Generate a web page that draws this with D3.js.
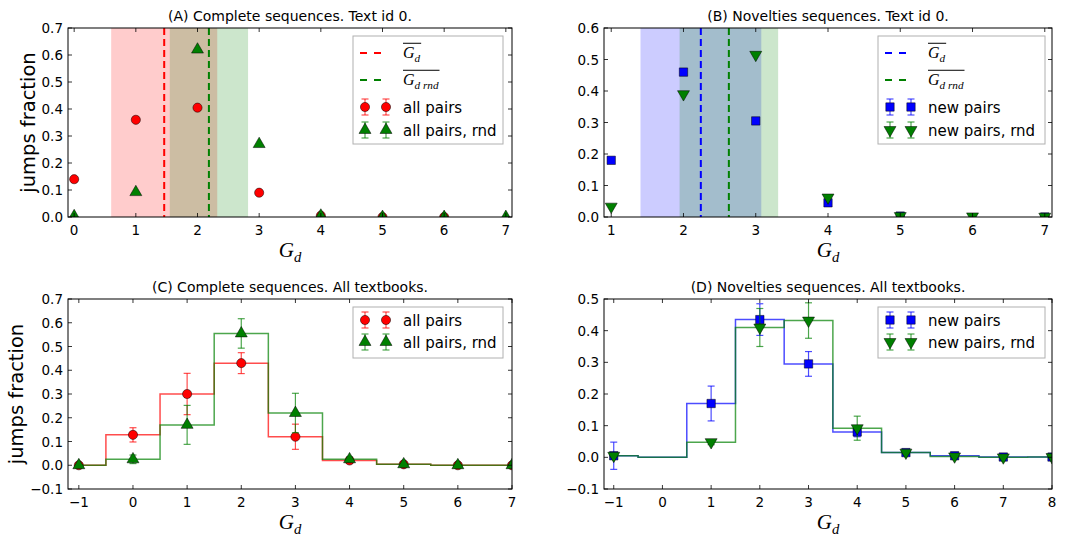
<!DOCTYPE html>
<html>
<head>
<meta charset="utf-8">
<script src="https://cdn.jsdelivr.net/npm/d3@7"></script>
<style>
body { margin: 0; background: #fff; }
svg text { font-family: "DejaVu Sans", sans-serif; fill: #000; }
</style>
</head>
<body>
<svg id="svg" width="1065" height="537"></svg>
<script>
// (A) complete sequences, text id 0
var aX = [0, 1, 2, 3, 4, 5, 6, 7];
var aPairs = [0.14, 0.36, 0.405, 0.09, 0.005, 0.0, 0.0, null];
var aRnd = [0.003, 0.092, 0.62, 0.27, 0.005, 0.0, 0.0, 0.0];
var aMean = 1.46, aMeanRnd = 2.185;
var aSpan = [0.6, 2.32], aSpanRnd = [1.55, 2.82];

// (B) novelties sequences, text id 0
var bX = [1, 2, 3, 4, 5, 6, 7];
var bNew = [0.18, 0.46, 0.305, 0.045, 0.003, null, 0.0];
var bRnd = [0.033, 0.39, 0.515, 0.062, 0.003, 0.002, 0.001];
var bMean = 2.24, bMeanRnd = 2.628;
var bSpan = [1.405, 3.077], bSpanRnd = [1.946, 3.31];

// (C) complete sequences, all textbooks
var cX = [-1, 0, 1, 2, 3, 4, 5, 6, 7];
var cPairs = [0.0, 0.128, 0.30, 0.43, 0.12, 0.02, 0.004, 0.0, 0.0];
var cPairsErr = [0.003, 0.03, 0.087, 0.044, 0.053, 0.01, 0.003, 0.002, 0.002];
var cRnd = [0.0, 0.025, 0.17, 0.555, 0.22, 0.025, 0.004, 0.0, 0.0];
var cRndErr = [0.003, 0.018, 0.082, 0.062, 0.083, 0.01, 0.003, 0.002, 0.002];

// (D) novelties sequences, all textbooks
var dX = [-1, 0, 1, 2, 3, 4, 5, 6, 7, 8];
var dNew = [0.005, null, 0.17, 0.435, 0.295, 0.08, 0.015, 0.005, 0.001, 0.001];
var dNewErr = [0.043, 0, 0.055, 0.05, 0.039, 0.015, 0.004, 0.003, 0.002, 0.002];
var dRnd = [0.005, null, 0.048, 0.41, 0.432, 0.092, 0.015, 0.003, 0.0, 0.001];
var dRndErr = [0.004, 0, 0.008, 0.06, 0.056, 0.038, 0.005, 0.003, 0.002, 0.002];

var RED = "#ff0000", GREEN = "#008000", BLUE = "#0000ff";

var svg = d3.select("#svg");
var clipId = 0;

function fmtTick(v, dec) {
	var s = d3.format("." + dec + "f")(Math.abs(v) < 1e-9 ? 0 : v);
	return s.replace("-", "\u2212");
}

function symbolFor(shape) {
	if (shape == "circle") return d3.symbol().type(d3.symbolCircle).size(66)();
	if (shape == "square") return d3.symbol().type(d3.symbolSquare).size(70)();
	return d3.symbol().type(d3.symbolTriangle).size(62)();
}

// G with subscript, optional overline (mathtext look)
function mathG(g, x, y, sub, size, overline) {
	var t = g.append("text").attr("x", x).attr("y", y)
		.style("font-family", "'Liberation Serif', serif").style("font-style", "italic")
		.style("font-size", size + "px");
	t.append("tspan").text("G");
	t.append("tspan").attr("dy", size * 0.22).style("font-size", (size * 0.7) + "px").text(sub);
	if (overline) {
		var w = t.node().getComputedTextLength();
		g.append("line").attr("x1", x).attr("x2", x + w + 1)
			.attr("y1", y - size * 0.92).attr("y2", y - size * 0.92)
			.attr("stroke", "#000").attr("stroke-width", 1);
	}
	return t;
}

function drawPanel(p) {
	var g = svg.append("g");
	var x = d3.scaleLinear().domain(p.xDomain).range([p.left, p.right]);
	var y = d3.scaleLinear().domain(p.yDomain).range([p.bottom, p.top]);

	clipId++;
	var cid = "clip" + clipId;
	g.append("clipPath").attr("id", cid).append("rect")
		.attr("x", p.left).attr("y", p.top)
		.attr("width", p.right - p.left).attr("height", p.bottom - p.top);
	var plot = g.append("g").attr("clip-path", "url(#" + cid + ")");

	// shaded spans
	(p.spans || []).forEach(function(s) {
		plot.append("rect")
			.attr("x", x(s.range[0])).attr("width", x(s.range[1]) - x(s.range[0]))
			.attr("y", p.top).attr("height", p.bottom - p.top)
			.attr("fill", s.color).attr("fill-opacity", 0.2);
	});
	// mean lines
	(p.means || []).forEach(function(m) {
		plot.append("line")
			.attr("x1", x(m.value)).attr("x2", x(m.value))
			.attr("y1", p.top).attr("y2", p.bottom)
			.attr("stroke", m.color).attr("stroke-width", 2)
			.attr("stroke-dasharray", "7,4");
	});

	p.series.forEach(function(s) {
		var pts = s.x.map(function(d, i) { return {x: d, y: s.y[i], e: s.err ? s.err[i] : 0}; });
		if (s.step) {
			var line = d3.line().curve(d3.curveStepAfter)
				.x(function(d) { return x(d.x); })
				.y(function(d) { return y(d.y == null ? 0 : d.y); });
			// mid steps: edges half way between points
			var stepPts = [];
			pts.forEach(function(d, i) {
				var x0 = i == 0 ? d.x : (pts[i - 1].x + d.x) / 2;
				stepPts.push({x: x0, y: d.y});
			});
			stepPts.push({x: pts[pts.length - 1].x, y: pts[pts.length - 1].y});
			plot.append("path").datum(stepPts)
				.attr("d", line).attr("fill", "none")
				.attr("stroke", s.color).attr("stroke-width", 1.5).attr("stroke-opacity", 0.7);
		}
		var shown = pts.filter(function(d) { return d.y != null; });
		if (s.err) {
			var eb = plot.append("g").attr("stroke", s.color).attr("stroke-opacity", 0.7).attr("stroke-width", 1.2);
			shown.forEach(function(d) {
				if (!d.e) return;
				var cx = x(d.x), y1 = y(d.y - d.e), y2 = y(d.y + d.e);
				eb.append("line").attr("x1", cx).attr("x2", cx).attr("y1", y1).attr("y2", y2);
				eb.append("line").attr("x1", cx - 3.5).attr("x2", cx + 3.5).attr("y1", y1).attr("y2", y1);
				eb.append("line").attr("x1", cx - 3.5).attr("x2", cx + 3.5).attr("y1", y2).attr("y2", y2);
			});
		}
		plot.selectAll(null).data(shown).enter().append("path")
			.attr("d", symbolFor(s.shape))
			.attr("transform", function(d) {
				return "translate(" + x(d.x) + "," + y(d.y) + ")" + (s.shape == "down" ? " rotate(180)" : "");
			})
			.attr("fill", s.color).attr("stroke", "#000").attr("stroke-width", 0.5);
	});

	// frame
	g.append("rect").attr("x", p.left).attr("y", p.top)
		.attr("width", p.right - p.left).attr("height", p.bottom - p.top)
		.attr("fill", "none").attr("stroke", "#000").attr("stroke-width", 1);

	// ticks (inside, all four sides)
	var tk = g.append("g").attr("stroke", "#000").attr("stroke-width", 0.8);
	p.xTicks.forEach(function(t) {
		var px = x(t);
		tk.append("line").attr("x1", px).attr("x2", px).attr("y1", p.bottom).attr("y2", p.bottom - 4);
		tk.append("line").attr("x1", px).attr("x2", px).attr("y1", p.top).attr("y2", p.top + 4);
		g.append("text").attr("x", px).attr("y", p.bottom + 18)
			.attr("text-anchor", "middle").style("font-size", "13.5px").text(fmtTick(t, 0));
	});
	p.yTicks.forEach(function(t) {
		var py = y(t);
		tk.append("line").attr("x1", p.left).attr("x2", p.left + 4).attr("y1", py).attr("y2", py);
		tk.append("line").attr("x1", p.right).attr("x2", p.right - 4).attr("y1", py).attr("y2", py);
		g.append("text").attr("x", p.left - 5).attr("y", py + 5)
			.attr("text-anchor", "end").style("font-size", "13.5px").text(fmtTick(t, 1));
	});

	// title, axis labels
	g.append("text").attr("x", (p.left + p.right) / 2).attr("y", p.top - 7)
		.attr("text-anchor", "middle").style("font-size", "14px").text(p.title);
	var xl = mathG(g, 0, p.bottom + 40, "d", 21, false);
	var w = xl.node().getComputedTextLength();
	xl.attr("x", (p.left + p.right) / 2 - w / 2);
	if (p.ylabel) {
		g.append("text")
			.attr("transform", "translate(" + p.ylabelX + "," + ((p.top + p.bottom) / 2) + ") rotate(-90)")
			.attr("text-anchor", "middle").style("font-size", "19.5px").text(p.ylabel);
	}

	// legend
	var L = p.legend;
	var lg = g.append("g");
	lg.append("rect").attr("x", L.x).attr("y", L.y).attr("width", L.w).attr("height", L.h)
		.attr("fill", "#fff").attr("stroke", "#b0b0b0").attr("stroke-width", 1);
	L.items.forEach(function(it, i) {
		var ry = L.rows[i];
		var mx1 = L.x + 12, mx2 = L.x + 33, tx = L.x + 50;
		if (it.kind == "dash") {
			lg.append("line").attr("x1", mx1 - 5).attr("x2", mx2 + 1).attr("y1", ry).attr("y2", ry)
				.attr("stroke", it.color).attr("stroke-width", 2).attr("stroke-dasharray", "7,7");
			mathG(lg, tx, ry + 5, it.sub, 16, true);
		} else {
			[mx1, mx2].forEach(function(mx) {
				var eb = lg.append("g").attr("stroke", it.color).attr("stroke-opacity", 0.7).attr("stroke-width", 1.2);
				eb.append("line").attr("x1", mx).attr("x2", mx).attr("y1", ry - 8).attr("y2", ry + 8);
				eb.append("line").attr("x1", mx - 3.5).attr("x2", mx + 3.5).attr("y1", ry - 8).attr("y2", ry - 8);
				eb.append("line").attr("x1", mx - 3.5).attr("x2", mx + 3.5).attr("y1", ry + 8).attr("y2", ry + 8);
				lg.append("path").attr("d", symbolFor(it.shape))
					.attr("transform", "translate(" + mx + "," + ry + ")" + (it.shape == "down" ? " rotate(180)" : ""))
					.attr("fill", it.color).attr("stroke", "#000").attr("stroke-width", 0.5);
			});
			lg.append("text").attr("x", tx).attr("y", ry + 5.5).style("font-size", "15px").text(it.label);
		}
	});
}

drawPanel({
	left: 68, right: 512, top: 28, bottom: 217,
	xDomain: [-0.1, 7.1], yDomain: [0, 0.7],
	xTicks: d3.range(0, 8), yTicks: d3.range(0, 8).map(function(i) { return i / 10; }),
	title: "(A) Complete sequences. Text id 0.",
	ylabel: "jumps fraction", ylabelX: 35,
	spans: [{range: aSpan, color: RED}, {range: aSpanRnd, color: GREEN}],
	means: [{value: aMean, color: RED}, {value: aMeanRnd, color: GREEN}],
	series: [
		{x: aX, y: aPairs, color: RED, shape: "circle"},
		{x: aX, y: aRnd, color: GREEN, shape: "up"}
	],
	legend: {x: 353, y: 36, w: 150, h: 108, rows: [53, 80, 107, 130], items: [
		{kind: "dash", color: RED, sub: "d"},
		{kind: "dash", color: GREEN, sub: "d rnd"},
		{kind: "marker", color: RED, shape: "circle", label: "all pairs"},
		{kind: "marker", color: GREEN, shape: "up", label: "all pairs, rnd"}
	]}
});

drawPanel({
	left: 604, right: 1052, top: 28, bottom: 217,
	xDomain: [0.9, 7.1], yDomain: [0, 0.6],
	xTicks: d3.range(1, 8), yTicks: d3.range(0, 7).map(function(i) { return i / 10; }),
	title: "(B) Novelties sequences. Text id 0.",
	spans: [{range: bSpan, color: BLUE}, {range: bSpanRnd, color: GREEN}],
	means: [{value: bMean, color: BLUE}, {value: bMeanRnd, color: GREEN}],
	series: [
		{x: bX, y: bNew, color: BLUE, shape: "square"},
		{x: bX, y: bRnd, color: GREEN, shape: "down"}
	],
	legend: {x: 878, y: 36, w: 167, h: 108, rows: [53, 80, 107, 130], items: [
		{kind: "dash", color: BLUE, sub: "d"},
		{kind: "dash", color: GREEN, sub: "d rnd"},
		{kind: "marker", color: BLUE, shape: "square", label: "new pairs"},
		{kind: "marker", color: GREEN, shape: "down", label: "new pairs, rnd"}
	]}
});

drawPanel({
	left: 68, right: 512, top: 299, bottom: 489,
	xDomain: [-1.2, 7], yDomain: [-0.1, 0.7],
	xTicks: d3.range(-1, 8), yTicks: d3.range(-1, 8).map(function(i) { return i / 10; }),
	title: "(C) Complete sequences. All textbooks.",
	ylabel: "jumps fraction", ylabelX: 23,
	series: [
		{x: cX, y: cPairs, err: cPairsErr, color: RED, shape: "circle", step: true},
		{x: cX, y: cRnd, err: cRndErr, color: GREEN, shape: "up", step: true}
	],
	legend: {x: 353, y: 307, w: 150, h: 51, rows: [320, 342], items: [
		{kind: "marker", color: RED, shape: "circle", label: "all pairs"},
		{kind: "marker", color: GREEN, shape: "up", label: "all pairs, rnd"}
	]}
});

drawPanel({
	left: 604, right: 1052, top: 299, bottom: 489,
	xDomain: [-1.2, 8], yDomain: [-0.1, 0.5],
	xTicks: d3.range(-1, 9), yTicks: d3.range(-1, 6).map(function(i) { return i / 10; }),
	title: "(D) Novelties sequences. All textbooks.",
	series: [
		{x: dX, y: dNew, err: dNewErr, color: BLUE, shape: "square", step: true},
		{x: dX, y: dRnd, err: dRndErr, color: GREEN, shape: "down", step: true}
	],
	legend: {x: 878, y: 307, w: 167, h: 51, rows: [320, 342], items: [
		{kind: "marker", color: BLUE, shape: "square", label: "new pairs"},
		{kind: "marker", color: GREEN, shape: "down", label: "new pairs, rnd"}
	]}
});
</script>
</body>
</html>
